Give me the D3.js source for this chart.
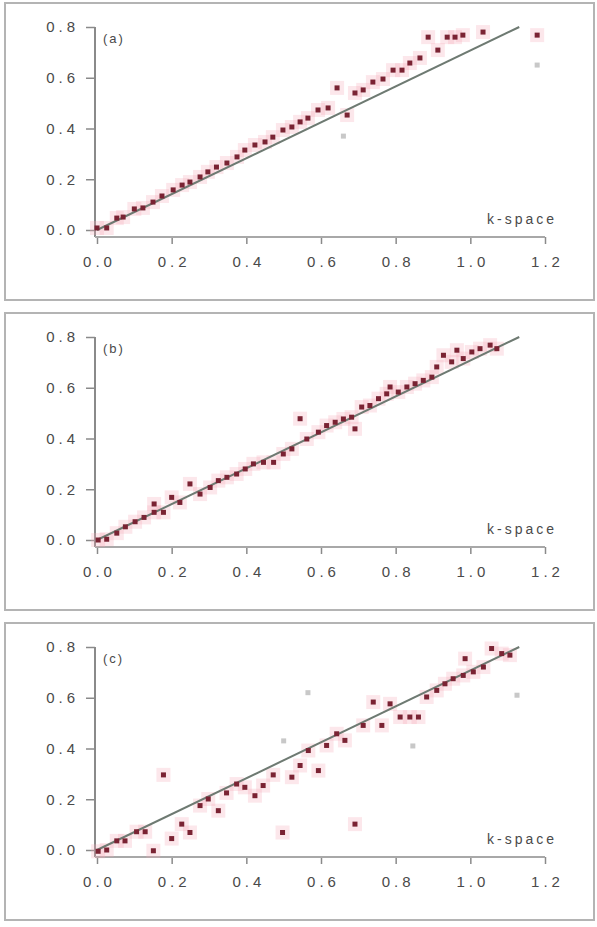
<!DOCTYPE html>
<html>
  <head>
    <meta charset='utf-8'>
    <title>k-space</title>
    <script src='https://d3js.org/d3.v7.min.js'></script>
    <style>
      body { margin: 0; background: #fff; }
      text { font-family: 'Liberation Sans', Arial, sans-serif; fill: #4a4a4a; }
    </style>
  </head>

  <body>
    <div id='grafico'></div>
    <script>
    // Datos: [x, y] por panel
    const panelLabels = ['(a)', '(b)', '(c)'];

    const pointsA = [
      [0.0, 0.008], [0.026, 0.008], [0.053, 0.047], [0.07, 0.051], [0.10, 0.083],
      [0.123, 0.087], [0.15, 0.11], [0.174, 0.134], [0.204, 0.158], [0.228, 0.177],
      [0.249, 0.189], [0.276, 0.209], [0.297, 0.229], [0.32, 0.248], [0.348, 0.264],
      [0.375, 0.288], [0.396, 0.315], [0.423, 0.335], [0.45, 0.347], [0.471, 0.366],
      [0.498, 0.394], [0.522, 0.406], [0.544, 0.426], [0.565, 0.441], [0.592, 0.473],
      [0.619, 0.481], [0.643, 0.56], [0.67, 0.453], [0.691, 0.54], [0.713, 0.552],
      [0.739, 0.583], [0.766, 0.595], [0.793, 0.63], [0.817, 0.63], [0.838, 0.658],
      [0.865, 0.678], [0.887, 0.76], [0.913, 0.709], [0.938, 0.76], [0.959, 0.76],
      [0.98, 0.768], [1.034, 0.78], [1.179, 0.768]
    ];

    const pointsB = [
      [0.003, 0.0], [0.026, 0.003], [0.053, 0.027], [0.076, 0.052], [0.102, 0.072],
      [0.126, 0.089], [0.153, 0.142], [0.153, 0.109], [0.178, 0.109], [0.2, 0.168],
      [0.222, 0.148], [0.249, 0.221], [0.276, 0.181], [0.303, 0.207], [0.325, 0.234],
      [0.348, 0.247], [0.374, 0.26], [0.397, 0.28], [0.419, 0.3], [0.446, 0.306],
      [0.473, 0.306], [0.499, 0.339], [0.522, 0.359], [0.544, 0.478], [0.562, 0.398],
      [0.593, 0.425], [0.615, 0.451], [0.638, 0.464], [0.66, 0.477], [0.682, 0.484],
      [0.691, 0.438], [0.709, 0.524], [0.731, 0.53], [0.754, 0.557], [0.776, 0.576],
      [0.785, 0.603], [0.807, 0.583], [0.83, 0.603], [0.852, 0.616], [0.874, 0.629],
      [0.897, 0.642], [0.91, 0.682], [0.928, 0.728], [0.95, 0.702], [0.964, 0.748],
      [0.981, 0.715], [1.004, 0.741], [1.026, 0.754], [1.053, 0.768], [1.071, 0.754]
    ];

    const pointsC = [
      [0.003, -0.005], [0.026, 0.0], [0.053, 0.036], [0.075, 0.036], [0.106, 0.072],
      [0.129, 0.072], [0.151, -0.003], [0.178, 0.296], [0.2, 0.045], [0.227, 0.102],
      [0.249, 0.069], [0.276, 0.175], [0.298, 0.201], [0.325, 0.155], [0.347, 0.225],
      [0.374, 0.26], [0.396, 0.247], [0.423, 0.214], [0.445, 0.254], [0.472, 0.296],
      [0.497, 0.069], [0.522, 0.287], [0.544, 0.333], [0.566, 0.392], [0.593, 0.313],
      [0.615, 0.412], [0.642, 0.458], [0.664, 0.432], [0.691, 0.102], [0.713, 0.491],
      [0.74, 0.583], [0.763, 0.491], [0.785, 0.576], [0.812, 0.524], [0.838, 0.524],
      [0.861, 0.524], [0.883, 0.603], [0.91, 0.629], [0.932, 0.655], [0.954, 0.675],
      [0.981, 0.688], [0.986, 0.754], [1.008, 0.702], [1.035, 0.721], [1.057, 0.794],
      [1.084, 0.774], [1.106, 0.768]
    ];

    // puntos tenues (grises) que se ven detrás
    const faintA = [[1.179, 0.65], [0.66, 0.37]];
    const faintB = [];
    const faintC = [[0.565, 0.62], [0.846, 0.41], [1.125, 0.61], [0.5, 0.43]];

    // recta de referencia y = x / sqrt(2)
    const refLine = [[0, 0], [1.131, 0.8]];

    const xTicks = [0, 0.2, 0.4, 0.6, 0.8, 1.0, 1.2];
    const yTicks = [0, 0.2, 0.4, 0.6, 0.8];
    const xLabel = 'k-space';

    const panels = [
      { label: panelLabels[0], pts: pointsA, faint: faintA },
      { label: panelLabels[1], pts: pointsB, faint: faintB },
      { label: panelLabels[2], pts: pointsC, faint: faintC }
    ];

    const W = 597, H = 927;
    const svg = d3.select('#grafico').append('svg')
      .attr('width', W)
      .attr('height', H);

    const x = d3.scaleLinear().domain([0, 1.2]).range([97, 545]);
    const fmt = d3.format('.1f');

    panels.forEach((p, i) => {
      const top = 3 + 310 * i;
      const g = svg.append('g').attr('transform', 'translate(0,' + top + ')');

      // marco
      g.append('rect')
        .attr('x', 5).attr('y', 0)
        .attr('width', 589).attr('height', 297)
        .attr('fill', 'none')
        .attr('stroke', '#b4b4b4')
        .attr('stroke-width', 2);

      const y = d3.scaleLinear().domain([0, 0.8]).range([227, 24]);
      const axisY = y(0) + 7;

      // ejes
      const yAxis = d3.axisLeft(y).tickValues(yTicks).tickFormat(fmt)
        .tickSize(9).tickPadding(7);
      const gy = g.append('g').attr('transform', 'translate(95,0)').call(yAxis);
      gy.select('.domain').remove();

      const xAxis = d3.axisBottom(x).tickValues(xTicks).tickFormat(fmt)
        .tickSize(7).tickPadding(12);
      const gx = g.append('g').attr('transform', 'translate(0,' + axisY + ')').call(xAxis);
      gx.select('.domain').remove();

      g.append('line')
        .attr('x1', 95).attr('x2', 95)
        .attr('y1', y(0.8)).attr('y2', axisY)
        .attr('stroke', '#8a8a8a').attr('stroke-width', 2);
      g.append('line')
        .attr('x1', 95).attr('x2', x(1.2))
        .attr('y1', axisY).attr('y2', axisY)
        .attr('stroke', '#a8a8a8').attr('stroke-width', 2);

      g.selectAll('.tick line').attr('stroke', '#8a8a8a').attr('stroke-width', 1.5);
      g.selectAll('.tick text')
        .style('font-size', '15px')
        .style('letter-spacing', '4px')
        .attr('fill', '#4a4a4a');
      gx.selectAll('.tick text').attr('dx', '2px');

      // halo rosa
      g.append('g').selectAll('rect')
        .data(p.pts).enter().append('rect')
        .attr('x', d => x(d[0]) - 7)
        .attr('y', d => y(d[1]) - 7)
        .attr('width', 14).attr('height', 14)
        .attr('fill', '#f6a9b8')
        .attr('opacity', 0.28);

      // puntos tenues
      g.append('g').selectAll('rect')
        .data(p.faint).enter().append('rect')
        .attr('x', d => x(d[0]) - 2.5)
        .attr('y', d => y(d[1]) - 2.5)
        .attr('width', 5).attr('height', 5)
        .attr('fill', '#c8c8c8');

      // recta de referencia
      g.append('path')
        .datum(refLine)
        .attr('d', d3.line().x(d => x(d[0])).y(d => y(d[1])))
        .attr('stroke', '#6e7a72')
        .attr('stroke-width', 2)
        .attr('fill', 'none');

      // puntos
      g.append('g').selectAll('rect')
        .data(p.pts).enter().append('rect')
        .attr('x', d => x(d[0]) - 2.5)
        .attr('y', d => y(d[1]) - 2.5)
        .attr('width', 5).attr('height', 5)
        .attr('fill', '#7a2333');

      // etiquetas
      g.append('text')
        .attr('x', 103).attr('y', 40)
        .style('font-size', '13px')
        .style('letter-spacing', '2px')
        .text(p.label);

      g.append('text')
        .attr('x', 557).attr('y', 221)
        .attr('text-anchor', 'end')
        .style('font-size', '14px')
        .style('letter-spacing', '3px')
        .text(xLabel);
    });

    </script>
  </body>
</html>
